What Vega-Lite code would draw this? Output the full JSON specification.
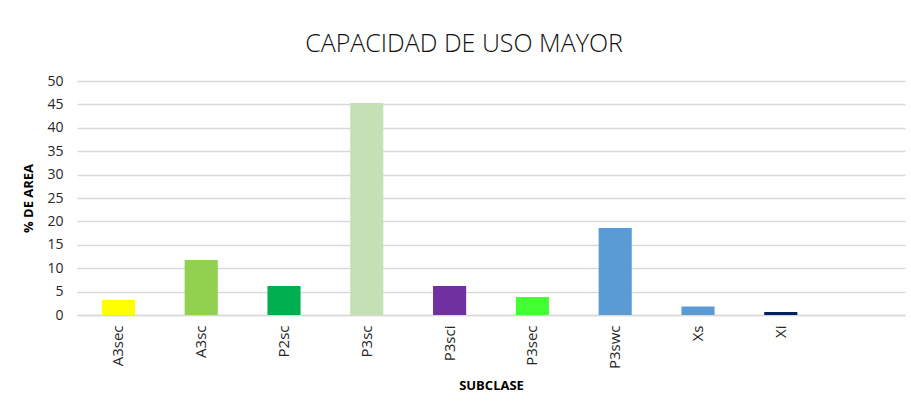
{
  "$schema": "https://vega.github.io/schema/vega-lite/v6.json",
  "width": 828,
  "height": 234,
  "autosize": "none",
  "padding": {"left": 77, "top": 81, "right": 6, "bottom": 91},
  "background": "white",
  "title": {
    "text": "CAPACIDAD DE USO MAYOR",
    "font": "Open Sans",
    "fontSize": 25,
    "fontWeight": 300,
    "color": "#111111",
    "anchor": "middle",
    "offset": 17,
    "dx": -27
  },
  "data": {
    "values": [
      {"subclase": "A3sec", "area": 3.2, "color": "#FFFF00"},
      {"subclase": "A3sc", "area": 11.75, "color": "#92D050"},
      {"subclase": "P2sc", "area": 6.2, "color": "#00B050"},
      {"subclase": "P3sc", "area": 45.3, "color": "#C5E0B4"},
      {"subclase": "P3sci", "area": 6.2, "color": "#7030A0"},
      {"subclase": "P3sec", "area": 3.85, "color": "#44FF33"},
      {"subclase": "P3swc", "area": 18.6, "color": "#5B9BD5"},
      {"subclase": "Xs", "area": 1.8, "color": "#5B9BD5"},
      {"subclase": "Xi", "area": 0.65, "color": "#002060"}
    ]
  },
  "mark": {"type": "bar"},
  "encoding": {
    "x": {
      "field": "subclase",
      "type": "nominal",
      "sort": null,
      "scale": {
        "domain": ["A3sec", "A3sc", "P2sc", "P3sc", "P3sci", "P3sec", "P3swc", "Xs", "Xi", " "],
        "paddingInner": 0.6,
        "paddingOuter": 0.3
      },
      "axis": {
        "title": "SUBCLASE",
        "titleFont": "Open Sans",
        "titleFontSize": 13,
        "titleFontWeight": "bold",
        "titleColor": "#000000",
        "titlePadding": 11,
        "labelAngle": -90,
        "labelFont": "Open Sans",
        "labelFontSize": 15,
        "labelColor": "#262626",
        "labelPadding": 10,
        "ticks": false,
        "domainColor": "#D9D9D9",
        "domainWidth": 1.5
      }
    },
    "y": {
      "field": "area",
      "type": "quantitative",
      "scale": {"domain": [0, 50]},
      "axis": {
        "title": "% DE AREA",
        "titleFont": "Open Sans",
        "titleFontSize": 13,
        "titleFontWeight": "bold",
        "titleColor": "#000000",
        "titlePadding": 11,
        "values": [0, 5, 10, 15, 20, 25, 30, 35, 40, 45, 50],
        "labelFont": "Open Sans",
        "labelFontSize": 14,
        "labelColor": "#262626",
        "labelPadding": 14,
        "ticks": false,
        "domain": false,
        "gridColor": "#D9D9D9",
        "gridWidth": 1.5
      }
    },
    "color": {"field": "color", "type": "nominal", "scale": null, "legend": null}
  },
  "config": {"view": {"stroke": null}}
}
